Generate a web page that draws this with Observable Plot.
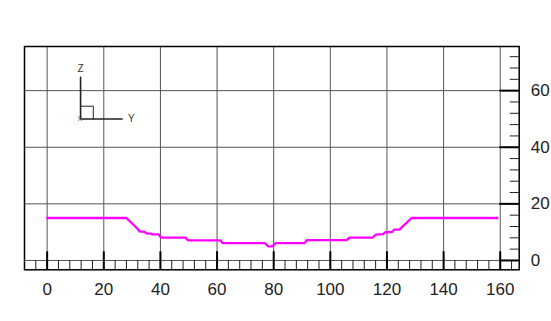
<!DOCTYPE html>
<html>
<head>
<meta charset="utf-8">
<script src="https://cdn.jsdelivr.net/npm/d3@7"></script>
<script src="https://cdn.jsdelivr.net/npm/@observablehq/plot@0.6"></script>
<style>
  html, body { margin: 0; padding: 0; background: #fff; }
</style>
</head>
<body>
<div id="chart"></div>
<script>
// Section profile: distance along the section (Y) and elevation (Z)
const distance = [0, 28, 31.8, 32.7, 34.1, 35.3, 36.7, 37.1, 39.4, 40.2, 48.8, 49.8, 61.2, 62, 77, 78, 79.6, 80.6, 90.8, 91.8, 105.8, 106.8, 115, 116, 118.6, 119.5, 121.8, 122.5, 124.4, 128.7, 159];
const elevation = [15, 15, 11.3, 10.2, 10.2, 9.5, 9.5, 9.2, 9.2, 8.1, 8.1, 7.1, 7.1, 6.1, 6.1, 5.0, 5.0, 6.1, 6.1, 7.2, 7.2, 8.1, 8.1, 9.1, 9.3, 10.0, 10.0, 10.9, 10.9, 15, 15];

// Axis ticks
const xTicks = [0, 20, 40, 60, 80, 100, 120, 140, 160];
const yTicks = [0, 20, 40, 60];
const xMinorTicks = d3.range(-4, 167, 4).filter(v => !xTicks.includes(v));
const yMinorTicks = d3.range(4, 75, 4).filter(v => !yTicks.includes(v));

const profile = distance.map((d, i) => ({distance: d, elevation: elevation[i]}));

const W = 551, H = 321;
const margin = {left: 24, right: 32.3, top: 46, bottom: 51.7};
const innerW = W - margin.left - margin.right;
const innerH = H - margin.top - margin.bottom;

// Orientation glyph (view axes) placed in the upper-left of the plot
const triad = {x: 11.8, y: 50, arm: 14.7, box: 4.5};

const ink = "#222";
const font = "'Liberation Sans', Arial, sans-serif";

const chart = Plot.plot({
  width: W,
  height: H,
  marginLeft: margin.left,
  marginRight: margin.right,
  marginTop: margin.top,
  marginBottom: margin.bottom,
  style: {fontFamily: font, background: "#fff", color: ink},
  x: {domain: [-8, 166.7]},
  y: {domain: [-3.3, 75.6]},
  marks: [
    // grid
    Plot.ruleX(xTicks, {stroke: "#555", strokeWidth: 1}),
    Plot.ruleY(yTicks, {stroke: "#555", strokeWidth: 1}),
    // inner ticks along the bottom edge
    Plot.tickX(xMinorTicks, {x: d => d, stroke: ink, strokeWidth: 1, insetTop: innerH - 9.3}),
    Plot.tickX(xTicks, {x: d => d, stroke: "#000", strokeWidth: 2, insetTop: innerH - 18}),
    // inner ticks along the right edge
    Plot.tickY(yMinorTicks, {y: d => d, stroke: ink, strokeWidth: 1, insetLeft: innerW - 9}),
    Plot.tickY(yTicks, {y: d => d, stroke: "#000", strokeWidth: 2, insetLeft: innerW - 19.4}),
    // orientation glyph
    Plot.line([[triad.x, triad.y + triad.arm], [triad.x, triad.y], [triad.x + triad.arm, triad.y]], {stroke: ink, strokeWidth: 1.6}),
    Plot.line([[triad.x, triad.y + triad.box], [triad.x + triad.box, triad.y + triad.box], [triad.x + triad.box, triad.y]], {stroke: ink, strokeWidth: 1}),
    Plot.text(["Z"], {x: triad.x, y: triad.y + triad.arm + 3.1, text: d => d, fontSize: 10, fill: "#333"}),
    Plot.text(["Y"], {x: triad.x + triad.arm + 3.2, y: triad.y, text: d => d, fontSize: 10, fill: "#333"}),
    Plot.text(["X"], {x: triad.x - 0.3, y: triad.y, text: d => d, fontSize: 7, fill: "#555"}),
    // profile
    Plot.line(profile, {x: "distance", y: "elevation", stroke: "#ff00ff", strokeWidth: 2.3}),
    Plot.frame({stroke: "#000", strokeWidth: 1.5}),
    // tick labels
    Plot.axisX({ticks: xTicks, tickSize: 0, tickPadding: 13, fontSize: 17, fill: ink, label: null}),
    Plot.axisY({anchor: "right", ticks: yTicks, tickSize: 0, tickPadding: 11.5, fontSize: 17, fill: ink, label: null})
  ]
});

document.getElementById("chart").appendChild(chart);
</script>
</body>
</html>
